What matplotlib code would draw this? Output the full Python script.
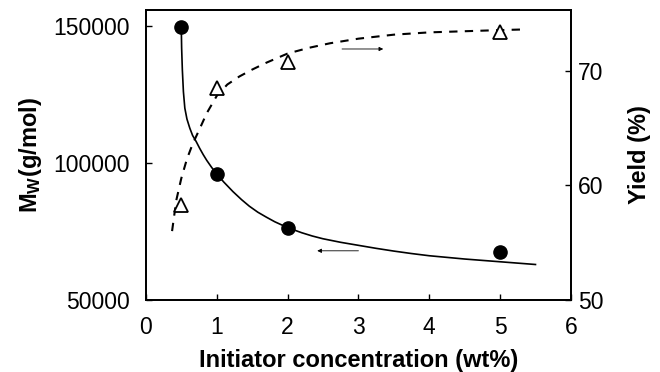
import matplotlib
matplotlib.use("Agg")
import matplotlib.pyplot as plt

plt.rcParams['font.family'] = ['Liberation Sans', 'DejaVu Sans']
plt.rcParams['mathtext.fontset'] = 'custom'
plt.rcParams['mathtext.rm'] = 'Liberation Sans'
plt.rcParams['mathtext.bf'] = 'Liberation Sans:bold'

# measured points
conc = [0.5, 1, 2, 5]
mw = [149500, 96000, 76300, 67300]
yld = [58.3, 68.5, 70.8, 73.4]

# fitted curves
mw_fit_x = [0.5, 0.505, 0.515, 0.53, 0.55, 0.58, 0.62, 0.66, 0.71, 0.76,
            0.81, 0.86, 0.93, 1.0, 1.1, 1.23, 1.35, 1.46, 1.58, 1.7, 1.82,
            1.93, 2.05, 2.2, 2.35, 2.5, 2.75, 3.0, 3.25, 3.5, 3.75, 4.0,
            4.25, 4.5, 4.75, 5.0, 5.25, 5.5]
mw_fit_y = [149500, 142000, 134000, 126000, 120000, 116000, 112700, 110000,
            107800, 105300, 103000, 100900, 98300, 96000, 93000, 89500,
            86600, 84200, 82000, 80200, 78500, 77200, 75900, 74500, 73300,
            72300, 71000, 69900, 68800, 67800, 66900, 66100, 65500, 64900,
            64400, 63900, 63400, 62900]
yl_fit_x = [0.37, 0.43, 0.5, 0.58, 0.66, 0.75, 0.86, 1.0, 1.15, 1.32, 1.5,
            1.7, 2.0, 2.3, 2.6, 3.0, 3.5, 4.0, 4.5, 5.0, 5.3]
yl_fit_y = [56.0, 58.7, 60.6, 62.3, 63.6, 64.8, 66.3, 67.8, 68.8, 69.5, 70.1,
            70.7, 71.5, 72.0, 72.4, 72.8, 73.15, 73.35, 73.45, 73.55, 73.6]

fig = plt.figure(figsize=(6.6, 3.72), dpi=100)
ax = fig.add_axes([0.221, 0.194, 0.644, 0.779])
ax2 = ax.twinx()

ax.plot(mw_fit_x, mw_fit_y, color='black', lw=1.2)
ax.plot(conc, mw, 'o', color='black', ms=9.5)
ax2.plot(yl_fit_x, yl_fit_y, color='black', lw=1.5, ls=(0, (4, 3.5)))
ax2.plot(conc, yld, '^', mfc='white', mec='black', mew=1.3, ms=10)

# direction arrows
ax.annotate('', xy=(2.38, 67900), xytext=(3.04, 67900),
            arrowprops=dict(arrowstyle='-|>', color='black', lw=0.6,
                            mutation_scale=6))
ax2.annotate('', xy=(3.39, 71.9), xytext=(2.73, 71.9),
             arrowprops=dict(arrowstyle='-|>', color='black', lw=0.6,
                             mutation_scale=6))

ax.set_xlim(0, 6)
ax.set_ylim(50000, 155800)
ax2.set_ylim(50, 75.3)
ax.set_xticks([0, 1, 2, 3, 4, 5, 6])
ax.set_yticks([50000, 100000, 150000])
ax2.set_yticks([50, 60, 70])

for a in (ax, ax2):
    a.tick_params(direction='in', length=4, width=1, labelsize=16.5)
    for s in a.spines.values():
        s.set_linewidth(1.3)
ax.tick_params(axis='x', pad=12)
ax.tick_params(axis='y', pad=11.5)
ax2.tick_params(axis='y', pad=5)

ax.set_xlabel('Initiator concentration (wt%)', fontsize=17, fontweight='bold', labelpad=7)
ax.set_ylabel(r'$\mathbf{M_W}$(g/mol)', fontsize=17, fontweight='bold', labelpad=7)
ax2.set_ylabel('Yield (%)', fontsize=17, fontweight='bold', labelpad=18)

fig.savefig('out.png', dpi=100)
